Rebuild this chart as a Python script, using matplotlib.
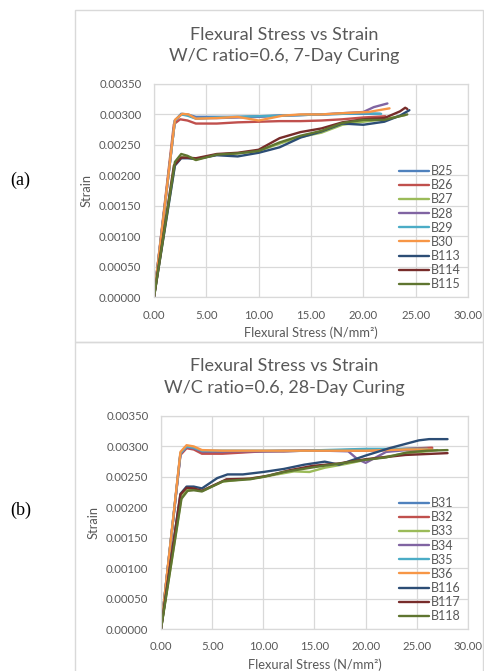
import matplotlib
matplotlib.use("Agg")
import matplotlib.pyplot as plt
from matplotlib.patches import Rectangle

plt.rcParams['font.family'] = ['Lato', 'DejaVu Sans']

# Excel 2010 palette
colors = ['#4F81BD', '#C0504D', '#9BBB59', '#8064A2', '#4BACC6', '#F79646',
          '#2C4D75', '#772C2A', '#5F7530']

# ---- (a) 7-day curing ----
names_7 = ['B25', 'B26', 'B27', 'B28', 'B29', 'B30', 'B113', 'B114', 'B115']
stress_7 = {
    'B25': [0, 2.0, 2.6, 3.2, 4.0, 6.0, 8.0, 10.0, 12.0, 14.0, 16.0, 18.0, 20.0, 21.6],
    'B26': [0, 1.9, 2.5, 3.2, 4.0, 6.0, 8.0, 10.0, 12.0, 14.0, 16.0, 18.0, 20.0, 22.1],
    'B27': [0, 2.0, 2.6, 3.2, 4.0, 6.0, 8.0, 10.0, 12.0, 14.0, 16.0, 18.0, 20.0, 22.0, 24.0],
    'B28': [0, 2.0, 2.6, 3.2, 4.0, 6.0, 8.0, 10.0, 12.0, 14.0, 16.0, 18.0, 20.0, 21.0, 22.3],
    'B29': [0, 2.0, 2.6, 3.2, 4.0, 6.0, 8.0, 10.0, 12.0, 14.0, 16.0, 18.0, 20.0, 21.7],
    'B30': [0, 2.0, 2.7, 3.3, 4.0, 6.0, 8.0, 10.0, 12.3, 14.0, 16.0, 18.0, 20.5, 22.5],
    'B113': [0, 2.0, 2.6, 3.2, 4.0, 6.0, 8.0, 10.0, 12.0, 14.0, 16.0, 18.0, 20.0, 22.0, 23.5, 24.4],
    'B114': [0, 1.9, 2.6, 3.2, 4.0, 6.0, 8.0, 10.0, 12.0, 14.0, 16.0, 18.0, 20.0, 22.0, 23.5, 24.0, 24.2],
    'B115': [0, 2.0, 2.6, 3.2, 4.0, 6.0, 8.0, 10.0, 12.0, 14.0, 16.0, 18.0, 20.0, 22.0, 24.2],
}
strain_7 = {
    'B25': [0, 0.00290, 0.00301, 0.00300, 0.00296, 0.00296, 0.00296, 0.00297, 0.00298, 0.00299, 0.00300, 0.00301, 0.00301, 0.00301],
    'B26': [0, 0.00284, 0.00292, 0.00290, 0.00285, 0.00285, 0.00287, 0.00288, 0.00289, 0.00289, 0.00290, 0.00292, 0.00295, 0.00297],
    'B27': [0, 0.00218, 0.00230, 0.00229, 0.00226, 0.00234, 0.00236, 0.00240, 0.00252, 0.00263, 0.00270, 0.00283, 0.00288, 0.00292, 0.00299],
    'B28': [0, 0.00290, 0.00300, 0.00299, 0.00294, 0.00294, 0.00295, 0.00296, 0.00298, 0.00299, 0.00300, 0.00302, 0.00304, 0.00312, 0.00318],
    'B29': [0, 0.00290, 0.00300, 0.00298, 0.00293, 0.00295, 0.00296, 0.00297, 0.00298, 0.00299, 0.00300, 0.00301, 0.00302, 0.00301],
    'B30': [0, 0.00291, 0.00301, 0.00300, 0.00293, 0.00294, 0.00296, 0.00290, 0.00298, 0.00300, 0.00300, 0.00302, 0.00304, 0.00310],
    'B113': [0, 0.00216, 0.00228, 0.00228, 0.00227, 0.00233, 0.00231, 0.00237, 0.00246, 0.00262, 0.00272, 0.00285, 0.00283, 0.00288, 0.00298, 0.00307],
    'B114': [0, 0.00216, 0.00229, 0.00229, 0.00228, 0.00235, 0.00237, 0.00242, 0.00261, 0.00271, 0.00277, 0.00287, 0.00292, 0.00294, 0.00305, 0.00311, 0.00309],
    'B115': [0, 0.00222, 0.00235, 0.00232, 0.00225, 0.00234, 0.00236, 0.00240, 0.00254, 0.00265, 0.00273, 0.00286, 0.00291, 0.00291, 0.00300],
}

# ---- (b) 28-day curing ----
names_28 = ['B31', 'B32', 'B33', 'B34', 'B35', 'B36', 'B116', 'B117', 'B118']
stress_28 = {
    'B31': [0, 1.9, 2.5, 3.2, 4.0, 6.0, 8.0, 10.0, 12.0, 14.0, 16.0, 18.0, 20.0, 22.0, 24.0, 26.5],
    'B32': [0, 1.9, 2.5, 3.2, 4.0, 6.0, 8.0, 10.0, 12.0, 14.0, 16.0, 18.0, 20.0, 22.0, 24.0, 26.5],
    'B33': [0, 2.0, 2.6, 3.2, 4.0, 6.0, 8.0, 10.0, 12.0, 13.0, 14.5, 16.0, 18.0, 20.0, 22.0, 24.0, 26.0, 27.0],
    'B34': [0, 1.9, 2.5, 3.2, 4.0, 6.0, 8.0, 10.0, 12.0, 14.0, 16.0, 18.3, 19.2, 20.0, 21.0, 22.0, 24.0, 26.3],
    'B35': [0, 1.9, 2.5, 3.2, 4.0, 6.0, 8.0, 10.0, 12.0, 14.0, 16.0, 18.0, 20.0, 22.0, 24.0, 26.0],
    'B36': [0, 1.9, 2.5, 3.2, 4.0, 6.0, 8.0, 10.0, 12.0, 14.0, 16.0, 18.0, 20.0, 22.0, 24.0, 26.5],
    'B116': [0, 1.9, 2.5, 3.2, 4.0, 5.5, 6.5, 8.0, 10.0, 12.0, 14.0, 16.0, 17.4, 20.0, 22.3, 25.2, 26.2, 28.0],
    'B117': [0, 1.9, 2.5, 3.2, 4.0, 6.4, 8.7, 10.5, 12.6, 14.8, 17.4, 20.0, 23.9, 28.0],
    'B118': [0, 2.0, 2.6, 3.2, 4.0, 6.1, 8.7, 10.0, 12.0, 15.0, 17.5, 20.0, 22.0, 24.0, 26.0, 28.0],
}
strain_28 = {
    'B31': [0, 0.00288, 0.00299, 0.00297, 0.00291, 0.00290, 0.00291, 0.00292, 0.00292, 0.00293, 0.00293, 0.00294, 0.00295, 0.00295, 0.00296, 0.00297],
    'B32': [0, 0.00286, 0.00297, 0.00295, 0.00288, 0.00288, 0.00290, 0.00292, 0.00292, 0.00293, 0.00293, 0.00293, 0.00293, 0.00294, 0.00296, 0.00298],
    'B33': [0, 0.00217, 0.00230, 0.00230, 0.00227, 0.00242, 0.00246, 0.00250, 0.00256, 0.00259, 0.00258, 0.00265, 0.00271, 0.00278, 0.00283, 0.00289, 0.00292, 0.00294],
    'B34': [0, 0.00288, 0.00299, 0.00297, 0.00292, 0.00292, 0.00292, 0.00292, 0.00293, 0.00293, 0.00293, 0.00292, 0.00279, 0.00273, 0.00282, 0.00291, 0.00294, 0.00295],
    'B35': [0, 0.00289, 0.00300, 0.00298, 0.00293, 0.00293, 0.00293, 0.00293, 0.00293, 0.00293, 0.00294, 0.00295, 0.00296, 0.00296, 0.00296, 0.00296],
    'B36': [0, 0.00291, 0.00302, 0.00300, 0.00294, 0.00293, 0.00293, 0.00293, 0.00293, 0.00293, 0.00293, 0.00293, 0.00293, 0.00294, 0.00295, 0.00295],
    'B116': [0, 0.00222, 0.00234, 0.00234, 0.00231, 0.00248, 0.00254, 0.00254, 0.00258, 0.00263, 0.00270, 0.00275, 0.00270, 0.00285, 0.00297, 0.00310, 0.00312, 0.00312],
    'B117': [0, 0.00221, 0.00232, 0.00231, 0.00227, 0.00246, 0.00247, 0.00252, 0.00261, 0.00268, 0.00272, 0.00279, 0.00286, 0.00289],
    'B118': [0, 0.00214, 0.00227, 0.00228, 0.00226, 0.00243, 0.00246, 0.00250, 0.00258, 0.00266, 0.00272, 0.00278, 0.00282, 0.00290, 0.00293, 0.00294],
}

W, H = 485, 671
fig = plt.figure(figsize=(W / 100, H / 100), dpi=100)
txt = '#595959'
grid_c = '#D9D9D9'

# chart frames (Excel chart area borders)
fig.patches.append(Rectangle((75.5 / W, 1 - 342 / H), (483 - 75.5) / W, (342 - 9.5) / H,
                             transform=fig.transFigure, fill=False, ec='#D9D9D9', lw=1))
fig.patches.append(Rectangle((75.5 / W, -0.01), (483 - 75.5) / W, (1 - 342 / H) + 0.01,
                             transform=fig.transFigure, fill=False, ec='#D9D9D9', lw=1))


def make_panel(box, names, xs, ys, title, title_y):
    l, t, r, b = box
    ax = fig.add_axes([l / W, 1 - b / H, (r - l) / W, (b - t) / H])
    for name, c in zip(names, colors):
        ax.plot(xs[name], ys[name], color=c, lw=1.7, label=name,
                solid_capstyle='round', solid_joinstyle='round')
    ax.set_xlim(0, 30)
    ax.set_ylim(0, 0.0035)
    ax.set_xticks([0, 5, 10, 15, 20, 25, 30])
    ax.set_yticks([0, 0.0005, 0.001, 0.0015, 0.002, 0.0025, 0.003, 0.0035])
    ax.set_xticklabels([f'{v:.2f}' for v in ax.get_xticks()])
    ax.set_yticklabels([f'{v:.5f}' for v in ax.get_yticks()])
    ax.grid(True, color=grid_c, lw=0.9)
    ax.set_axisbelow(True)
    for s in ax.spines.values():
        s.set_color(grid_c)
        s.set_linewidth(0.9)
    ax.tick_params(length=0, labelsize=8.2, colors=txt)
    ax.tick_params(axis='y', pad=9)
    ax.tick_params(axis='x', pad=9)
    ax.set_xlabel('Flexural Stress (N/mm²)', fontsize=9.3, color=txt, labelpad=4)
    ax.set_ylabel('Strain', fontsize=9.3, color=txt, labelpad=5)
    leg = ax.legend(loc='lower right', frameon=False, fontsize=9, handlelength=2.4,
                    handletextpad=0.15, labelspacing=0.17, borderaxespad=0.15)
    for tx in leg.get_texts():
        tx.set_color(txt)
    fig.text(284 / W, 1 - title_y / H, title, ha='center', va='center',
             fontsize=13, color=txt, linespacing=1.4)
    return ax


make_panel((154, 84, 468, 297), names_7, stress_7, strain_7,
           'Flexural Stress vs Strain\nW/C ratio=0.6, 7-Day Curing', 45.5)
make_panel((161, 416, 468, 629), names_28, stress_28, strain_28,
           'Flexural Stress vs Strain\nW/C ratio=0.6, 28-Day Curing', 377)

fig.text(10 / W, 1 - 180 / H, '(a)', fontsize=13, family='Liberation Serif', va='center')
fig.text(10 / W, 1 - 510 / H, '(b)', fontsize=13, family='Liberation Serif', va='center')

fig.savefig('out.png', dpi=100)
